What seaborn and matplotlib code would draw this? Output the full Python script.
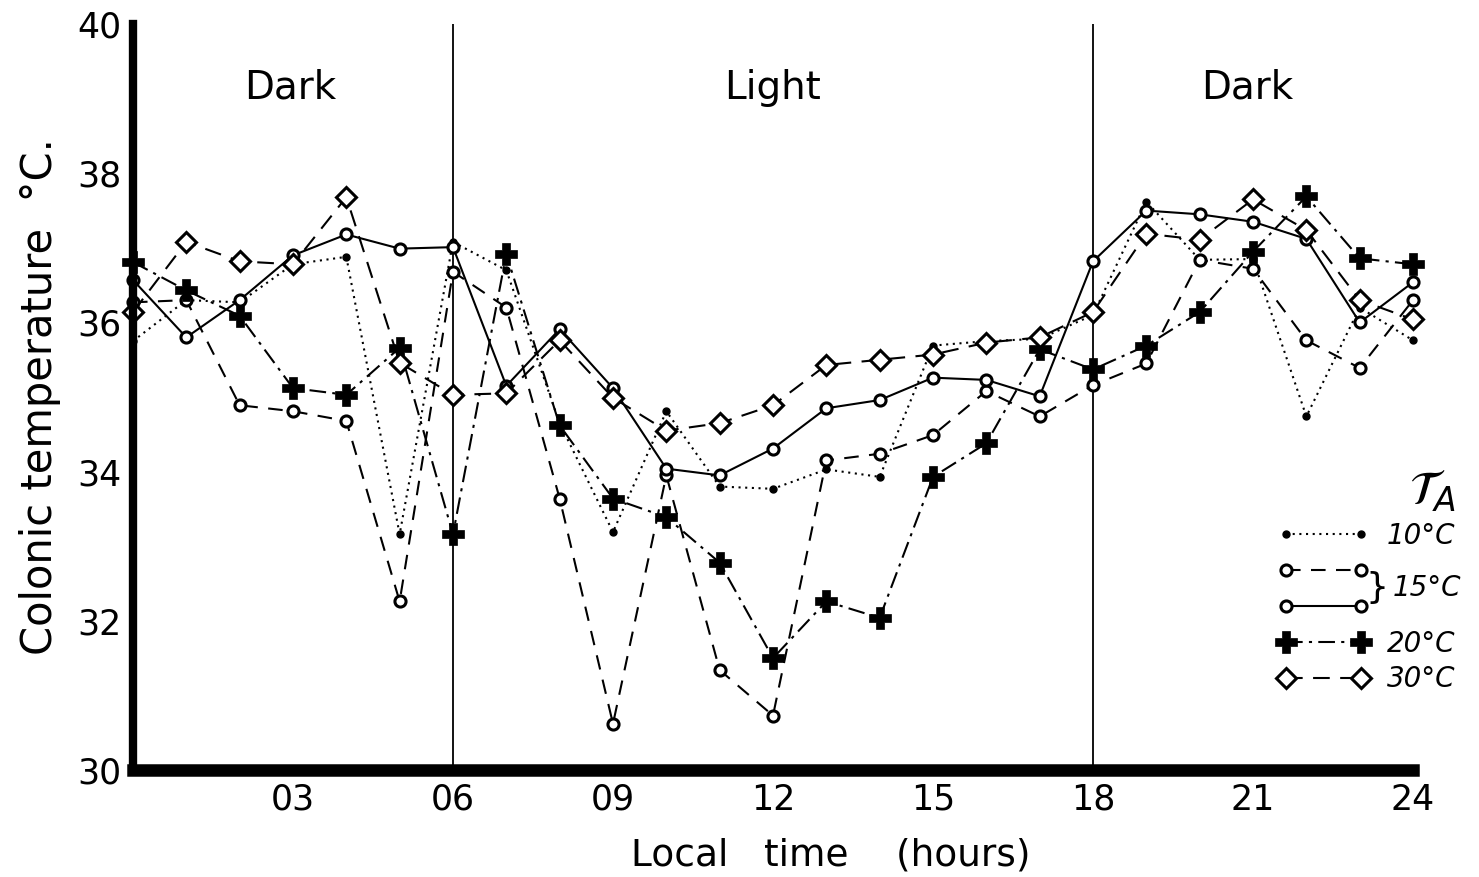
import matplotlib
matplotlib.use("Agg")
import matplotlib.pyplot as plt
import numpy as np
import pandas as pd
import seaborn as sns

# ── data ───────────────────────────────────────────────────────────────────
hours = list(range(0, 25))

t_10 = [35.75, 36.30, 36.27, 36.78, 36.88, 33.16, 37.08, 36.70, 34.65, 33.19,
        34.81, 33.80, 33.77, 34.03, 33.93, 35.69, 35.75, 35.78, 36.10, 37.62,
        36.84, 36.85, 34.74, 36.20, 35.76]
t_15a = [36.27, 36.30, 34.89, 34.81, 34.68, 32.26, 36.68, 36.20, 33.64, 30.62,
         33.95, 31.34, 30.73, 34.15, 34.24, 34.49, 35.08, 34.74, 35.16, 35.45,
         36.84, 36.72, 35.76, 35.39, 36.30]
t_15b = [36.57, 35.80, 36.30, 36.90, 37.18, 36.99, 37.01, 35.15, 35.91, 35.12,
         34.04, 33.95, 34.31, 34.85, 34.96, 35.26, 35.23, 35.01, 36.82, 37.50,
         37.45, 37.35, 37.12, 36.00, 36.54]
t_20 = [36.81, 36.43, 36.09, 35.12, 35.03, 35.66, 33.16, 36.92, 34.62, 33.64,
        33.39, 32.78, 31.50, 32.26, 32.04, 33.93, 34.38, 35.64, 35.37, 35.69,
        36.14, 36.95, 37.69, 36.86, 36.78]
t_30 = [36.14, 37.08, 36.82, 36.78, 37.68, 35.46, 35.03, 35.05, 35.76, 34.99,
        34.55, 34.65, 34.89, 35.43, 35.50, 35.57, 35.73, 35.80, 36.14, 37.19,
        37.11, 37.65, 37.24, 36.30, 36.04]

x_ticks = list(range(0, 25))
x_ticklabels = ["" if (h % 3 or h == 0) else f"{h:02d}" for h in x_ticks]
y_ticks = list(range(30, 41))
y_ticklabels = [str(v) if v % 2 == 0 else "" for v in y_ticks]

phase_names = ["Dark", "Light", "Dark"]
phase_x = [2.95, 12.0, 20.9]
phase_edges = [6, 18]

series_names = ["10°C", "15°C dashed", "15°C solid", "20°C", "30°C"]
legend_labels = ["10°C", "", "", "20°C", "30°C"]

# ── style ──────────────────────────────────────────────────────────────────
sns.set_theme(style="white")
plt.rcParams["font.family"] = ["DejaVu Sans"]
plt.rcParams["text.color"] = "black"
plt.rcParams["axes.labelcolor"] = "black"

fig = plt.figure(figsize=(14.79, 8.77), dpi=100)
ax = fig.add_axes([0.0899, 0.122, 0.8655, 0.8505])

styles = {
    "10°C": dict(linestyle=(0, (1.0, 2.2)), marker="o", markersize=5,
                 markerfacecolor="black", markeredgewidth=1),
    "15°C dashed": dict(linestyle=(0, (7, 5)), marker="o", markersize=8,
                        markerfacecolor="white", markeredgewidth=2.2),
    "15°C solid": dict(linestyle="-", marker="o", markersize=8,
                       markerfacecolor="white", markeredgewidth=2.2),
    "20°C": dict(linestyle=(0, (8, 3, 1.5, 3)), marker="P", markersize=16,
                 markerfacecolor="black", markeredgewidth=0.5),
    "30°C": dict(linestyle=(0, (8, 5)), marker="D", markersize=10,
                 markerfacecolor="white", markeredgewidth=2.2),
}
values = [t_10, t_15a, t_15b, t_20, t_30]

for name, vals, lab in zip(series_names, values, legend_labels):
    df = pd.DataFrame({"hour": hours, "temp": vals})
    sns.lineplot(data=df, x="hour", y="temp", ax=ax, color="black",
                 linewidth=1.5, markeredgecolor="black", clip_on=False,
                 label=lab if lab else " ", errorbar=None, **styles[name])

for xe in phase_edges:
    ax.axvline(xe, color="black", linewidth=1.3, zorder=0)

for name, xp in zip(phase_names, phase_x):
    ax.text(xp, 39.15, name, ha="center", va="center", fontsize=28)

# ── axes ───────────────────────────────────────────────────────────────────
ax.set_xlim(0, 24)
ax.set_ylim(30, 40)
ax.set_xticks(x_ticks)
ax.set_xticklabels(x_ticklabels, fontsize=25)
ax.set_yticks(y_ticks)
ax.set_yticklabels(y_ticklabels, fontsize=25)
ax.tick_params(axis="x", direction="in", length=22, width=1.3, pad=9,
               color="black", labelcolor="black")
ax.tick_params(axis="y", direction="in", length=16, width=1.3, pad=8,
               color="black", labelcolor="black")
for s in ["top", "right"]:
    ax.spines[s].set_visible(False)
ax.spines["left"].set_linewidth(6)
ax.spines["bottom"].set_linewidth(9)
ax.spines["left"].set_color("black")
ax.spines["bottom"].set_color("black")

ax.set_xlabel("Local   time    (hours)", fontsize=27)
ax.xaxis.set_label_coords(0.545, -0.09)
ax.set_ylabel("Colonic temperature  °C.", fontsize=30, labelpad=12)

# ── legend ─────────────────────────────────────────────────────────────────
handles, _ = ax.get_legend_handles_labels()
leg = ax.legend(handles, legend_labels, loc="upper left",
                bbox_to_anchor=(0.894, 0.405), frameon=False, numpoints=2,
                handlelength=3.3, labelspacing=0.28, handletextpad=0.65,
                borderaxespad=0, borderpad=0,
                title=r"$\mathcal{T}_A$", title_fontsize=34,
                prop={"size": 20, "style": "italic"})
leg._legend_box.align = "right"

fig.canvas.draw()
renderer = fig.canvas.get_renderer()
b1 = leg.legend_handles[1].get_window_extent(renderer)
b2 = leg.legend_handles[2].get_window_extent(renderer)
tx = leg.get_texts()[0].get_window_extent(renderer).x0
ymid = (b1.y0 + b1.y1 + b2.y0 + b2.y1) / 4
fig.text((tx + 1) / fig.bbox.width, ymid / fig.bbox.height, "}",
         fontsize=26, va="center", ha="right")
fig.text((tx + 6) / fig.bbox.width, ymid / fig.bbox.height, "15°C",
         fontsize=20, style="italic", va="center", ha="left")

fig.savefig("out.png", dpi=100)
